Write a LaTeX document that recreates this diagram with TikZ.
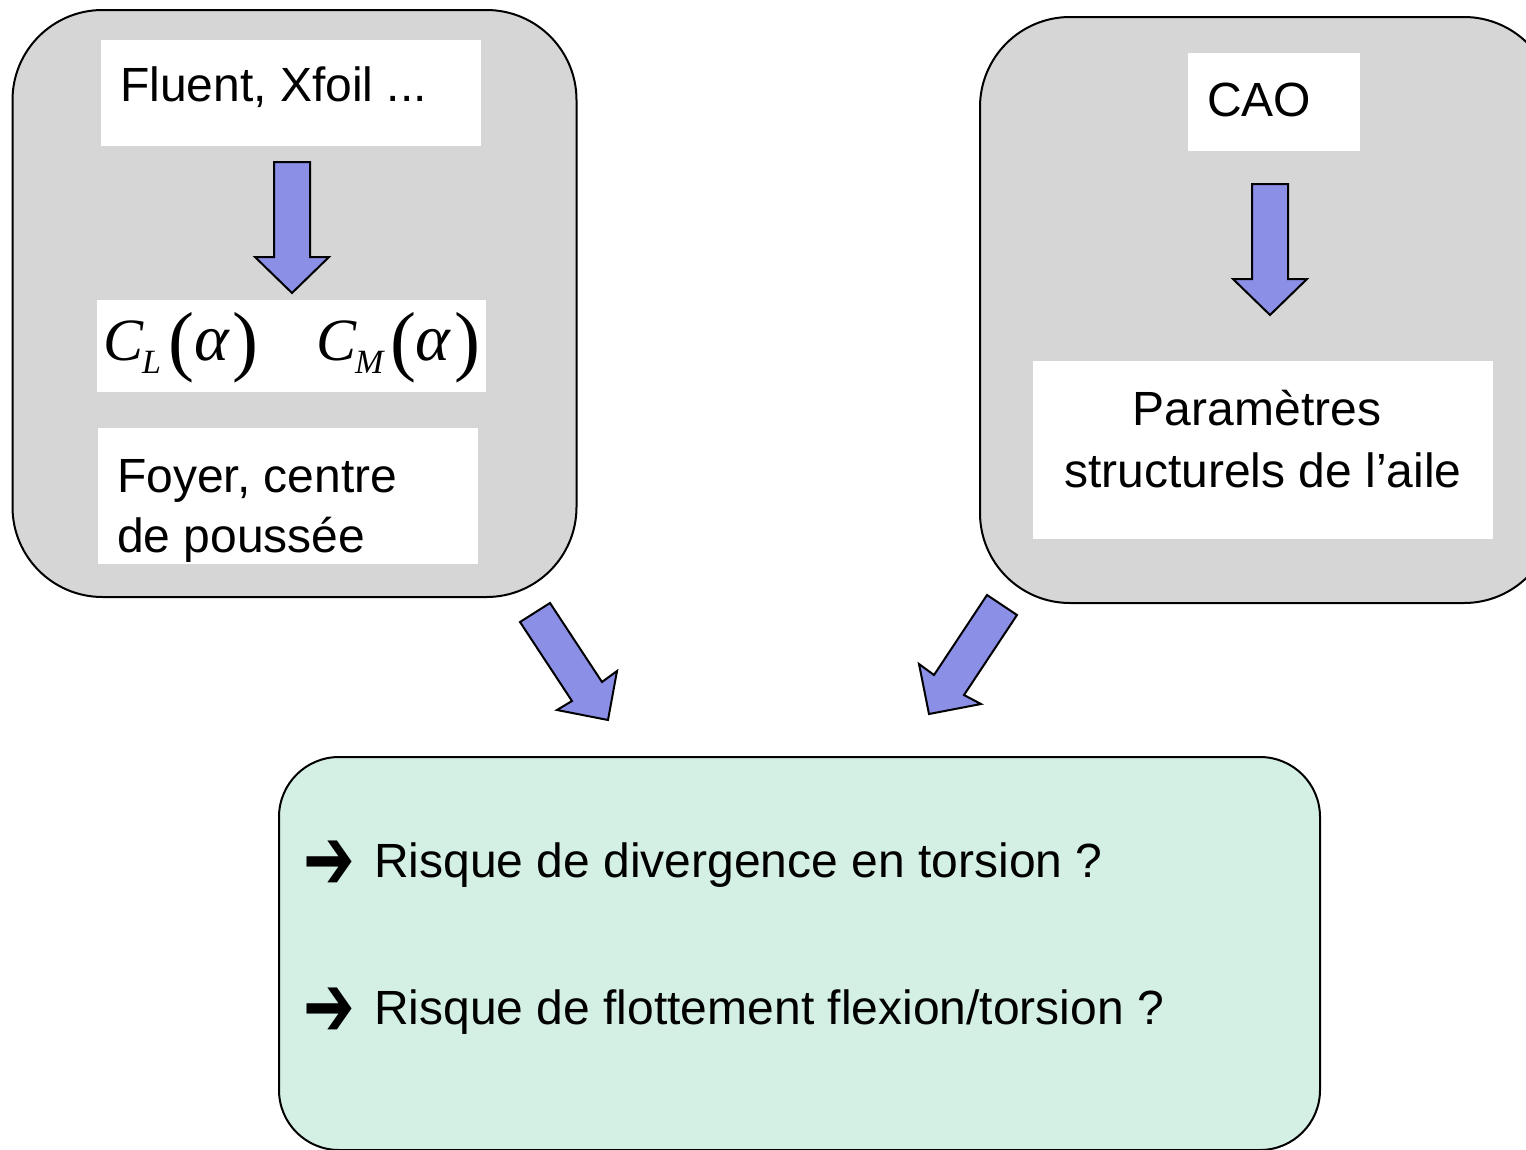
\documentclass[tikz,border=0pt]{standalone}
\usepackage{fontspec}
\setmainfont{Liberation Sans}
\newfontfamily\timesf{Liberation Serif}
\newfontfamily\dejavu{DejaVu Sans}
\definecolor{boxgray}{HTML}{D6D6D6}
\definecolor{boxgreen}{HTML}{D4EFE4}
\definecolor{arrowblue}{HTML}{8B8FE6}
\newcommand{\bulletarrow}{\raisebox{-12pt}{\scalebox{1.4}[2.0]{\dejavu\fontsize{44}{44}\selectfont ➔}}}
\begin{document}
\begin{tikzpicture}[x=1pt,y=-1pt,
  graybox/.style={draw=black,fill=boxgray,line width=2pt,rounded corners=90pt,inner sep=0pt},
  greenbox/.style={draw=black,fill=boxgreen,line width=2pt,rounded corners=60pt,inner sep=0pt},
  whitebox/.style={fill=white,draw=none,inner sep=0pt},
  bigarrow/.style={draw=black,fill=arrowblue,line width=2pt,line join=miter},
  txt/.style={inner sep=0pt,anchor=base west,font=\fontsize{48}{58}\selectfont},
  ctxt/.style={txt,anchor=base},
  mathtxt/.style={inner sep=0pt,anchor=base west,font=\timesf\itshape\fontsize{60}{60}\selectfont}]
\useasboundingbox (0,0) rectangle (1526,1149);
\clip (0,0) rectangle (1526,1149);
\fill[white] (0,0) rectangle (1526,1149);

% grey boxes
\node[graybox,minimum width=564pt,minimum height=587pt] (left) at (294.5,303.5) {};
\node[graybox,minimum width=574pt,minimum height=586pt] (right) at (1267,310) {};
% green box
\node[greenbox,minimum width=1041pt,minimum height=393pt] (bottom) at (799.5,953.5) {};

% white boxes
\node[whitebox,minimum width=380pt,minimum height=106pt] (fluentbox) at (291,93) {};
\node[whitebox,minimum width=389pt,minimum height=92pt] (mathbox) at (291.5,346) {};
\node[whitebox,minimum width=380pt,minimum height=136pt] (foyerbox) at (288,496) {};
\node[whitebox,minimum width=172pt,minimum height=98pt] (caobox) at (1274,102) {};
\node[whitebox,minimum width=460pt,minimum height=178pt] (parambox) at (1263,450) {};

% texts
\node[txt] (fluent) at (120,101) {Fluent, Xfoil ...};
\node[txt] (foyer1) at (117,492) {Foyer, centre};
\node[txt] (foyer2) at (117,552) {de poussée};
\node[txt] (cao) at (1207,116) {CAO};
\node[ctxt] (param1) at (1257,425) {Paramètres};
\node[ctxt] (param2) at (1263,487) {structurels de l’aile};

% math
\node[mathtxt] (cl) at (103,360) {\rlap{C}\rlap{\hspace{39pt}\raisebox{-13pt}{\fontsize{34}{34}\selectfont L}}\rlap{\hspace{65pt}\raisebox{-6pt}{\upshape\fontsize{78}{78}\selectfont (}}\rlap{\hspace{91pt}{\fontsize{66}{66}\selectfont α}}\hspace{129pt}\raisebox{-6pt}{\upshape\fontsize{78}{78}\selectfont )}};
\node[mathtxt] (cm) at (316,360) {\rlap{C}\rlap{\hspace{39pt}\raisebox{-13pt}{\fontsize{34}{34}\selectfont M}}\rlap{\hspace{74pt}\raisebox{-6pt}{\upshape\fontsize{78}{78}\selectfont (}}\rlap{\hspace{99pt}{\fontsize{66}{66}\selectfont α}}\hspace{138pt}\raisebox{-6pt}{\upshape\fontsize{78}{78}\selectfont )}};

% bullets in green box
\node[txt] (b1) at (303,877) {\bulletarrow};
\node[txt] (r1) at (374,877) {Risque de divergence en torsion ?};
\node[txt] (b2) at (303,1024) {\bulletarrow};
\node[txt] (r2) at (374,1024) {Risque de flottement flexion/torsion ?};

% block arrows
\draw[bigarrow] (274,162) -- (310,162) -- (310,257) -- (329,257) -- (292,293) -- (255,257) -- (274,257) -- cycle;
\draw[bigarrow] (1252,184) -- (1288,184) -- (1288,279) -- (1307,279) -- (1270,315) -- (1233,279) -- (1252,279) -- cycle;
\draw[bigarrow] (520,622) -- (550,603) -- (602,682) -- (617,671) -- (608,720) -- (557,710) -- (572,701) -- cycle;
\draw[bigarrow] (987,595) -- (1017,615) -- (964,695) -- (981,704) -- (929,714) -- (919,664) -- (934,675) -- cycle;
\end{tikzpicture}
\end{document}
